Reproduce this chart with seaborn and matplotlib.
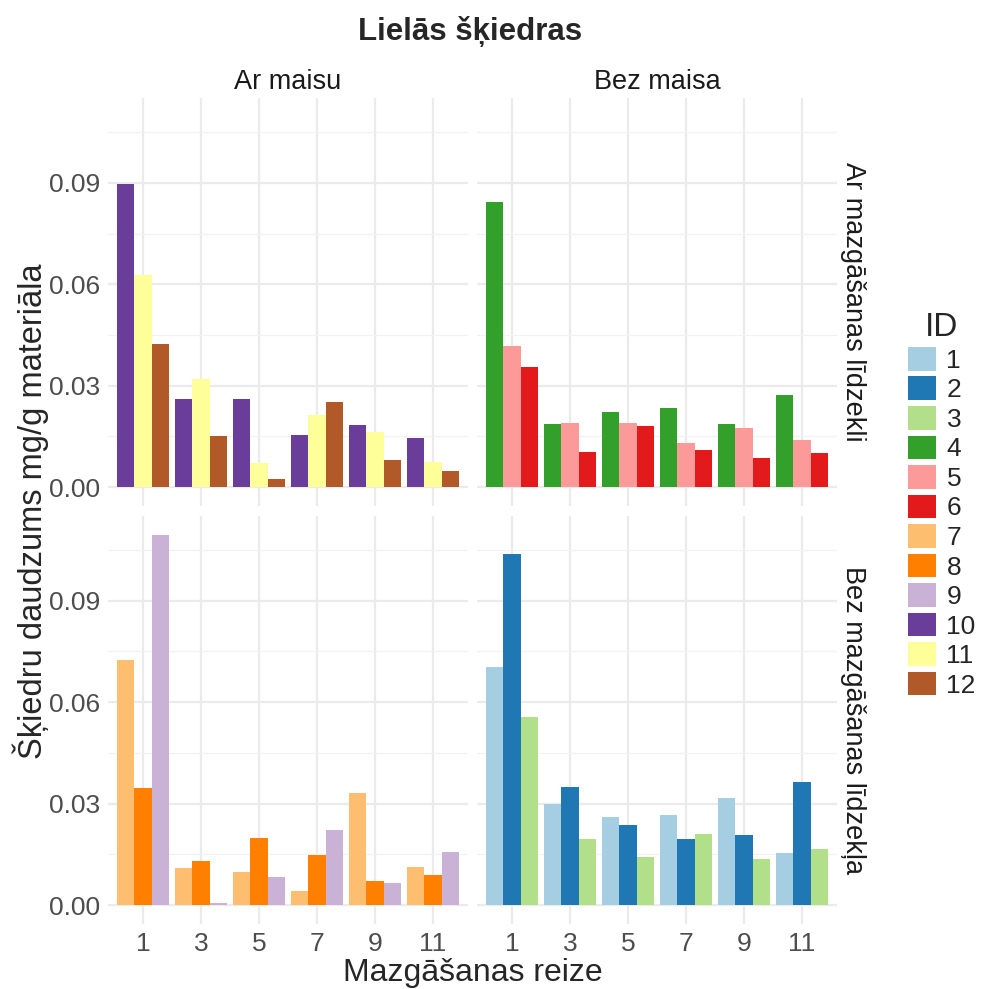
import matplotlib.pyplot as plt
from matplotlib.patches import Patch
from matplotlib.ticker import MultipleLocator, FixedLocator
import seaborn as sns
import pandas as pd

# mazgāšanas reizes
reize = [1, 3, 5, 7, 9, 11]

# šķiedru daudzums mg/g katram ID
id_1 = [0.0703, 0.0298, 0.0261, 0.0267, 0.0317, 0.0154]
id_2 = [0.1038, 0.0349, 0.0236, 0.0195, 0.0207, 0.0364]
id_3 = [0.0556, 0.0195, 0.0143, 0.0209, 0.0135, 0.0165]
id_4 = [0.0843, 0.0186, 0.0223, 0.0235, 0.0186, 0.0272]
id_5 = [0.0417, 0.0191, 0.0191, 0.0131, 0.0175, 0.0138]
id_6 = [0.0356, 0.0104, 0.0180, 0.0109, 0.0087, 0.0102]
id_7 = [0.0725, 0.0110, 0.0098, 0.0042, 0.0331, 0.0113]
id_8 = [0.0347, 0.0130, 0.0197, 0.0148, 0.0071, 0.0090]
id_9 = [0.1095, 0.0007, 0.0082, 0.0221, 0.0066, 0.0157]
id_10 = [0.0897, 0.0262, 0.0262, 0.0155, 0.0185, 0.0146]
id_11 = [0.0628, 0.0321, 0.0071, 0.0213, 0.0163, 0.0074]
id_12 = [0.0423, 0.0150, 0.0025, 0.0252, 0.0079, 0.0047]

vertibas = [id_1, id_2, id_3, id_4, id_5, id_6, id_7, id_8, id_9, id_10, id_11, id_12]
ids = [str(i) for i in range(1, 13)]

kolonnas = ["Ar maisu", "Bez maisa"]
rindas = ["Ar mazgāšanas līdzekli", "Bez mazgāšanas līdzekļa"]
# kurš ID kurā panelī
maiss = ["Bez maisa"] * 6 + ["Ar maisu"] * 6
lidzeklis = (["Bez mazgāšanas līdzekļa"] * 3 + ["Ar mazgāšanas līdzekli"] * 3
             + ["Bez mazgāšanas līdzekļa"] * 3 + ["Ar mazgāšanas līdzekli"] * 3)

rows = []
for i, vals in enumerate(vertibas):
    for r, v in zip(reize, vals):
        rows.append({"reize": str(r), "ID": ids[i], "vertiba": v,
                     "maiss": maiss[i], "lidzeklis": lidzeklis[i]})
df = pd.DataFrame(rows)

krasas = dict(zip(ids, sns.color_palette("Paired", 12)))

sns.set_theme(style="white")
plt.rcParams["font.family"] = ["Liberation Sans", "DejaVu Sans"]

fig, axes = plt.subplots(2, 2, figsize=(9.84, 9.89), dpi=100, sharex=True, sharey=True)
fig.subplots_adjust(left=0.110, right=0.8504, bottom=0.0661, top=0.9006,
                    wspace=0.026, hspace=0.026)

x_order = [str(r) for r in reize]
for ri, rinda in enumerate(rindas):
    for ci, kol in enumerate(kolonnas):
        ax = axes[ri, ci]
        sub = df[(df["maiss"] == kol) & (df["lidzeklis"] == rinda)]
        h_order = [i for i in ids if i in set(sub["ID"])]
        sns.barplot(data=sub, x="reize", y="vertiba", hue="ID", order=x_order,
                    hue_order=h_order, palette=krasas, width=0.9, saturation=1,
                    linewidth=0, legend=False, ax=ax, zorder=2)
        ax.set_xlim(-0.6, 5.6)
        ax.set_ylim(-0.0055, 0.115)
        ax.yaxis.set_major_locator(FixedLocator([0.0, 0.03, 0.06, 0.09]))
        ax.yaxis.set_minor_locator(MultipleLocator(0.015))
        ax.set_yticklabels(["0.00", "0.03", "0.06", "0.09"])
        ax.grid(which="major", color="#EBEBEB", linewidth=1.6, zorder=0)
        ax.grid(which="minor", axis="y", color="#F2F2F2", linewidth=0.9, zorder=0)
        ax.set_axisbelow(True)
        for s in ax.spines.values():
            s.set_visible(False)
        ax.tick_params(which="both", length=0, labelsize=19, labelcolor="#4D4D4D", pad=6)
        ax.set_xlabel("")
        ax.set_ylabel("")
        if ri == 0:
            ax.set_title(kol, fontsize=19.5, color="#1A1A1A", pad=7)
        if ci == 1:
            ax.text(1.045, 0.5, rinda, transform=ax.transAxes, rotation=-90,
                    ha="center", va="center", fontsize=19.5, color="#1A1A1A")

fig.text(0.478, 0.968, "Lielās šķiedras", ha="center", va="center",
         fontsize=22.5, fontweight="bold")
fig.text(0.48, 0.016, "Mazgāšanas reize", ha="center", va="center", fontsize=23)
fig.text(0.031, 0.483, "Šķiedru daudzums mg/g materiāla", ha="center", va="center",
         rotation=90, fontsize=23.5)

handles = [Patch(facecolor=krasas[i], edgecolor="none", label=i) for i in ids]
fig.legend(handles=handles, title="ID", loc="upper left", bbox_to_anchor=(0.912, 0.695),
           frameon=False, fontsize=19, title_fontsize=24, handlelength=1.06,
           handleheight=1.0, labelspacing=0.14, handletextpad=0.4, borderaxespad=0)

fig.savefig("out.png", dpi=100, facecolor="white")
